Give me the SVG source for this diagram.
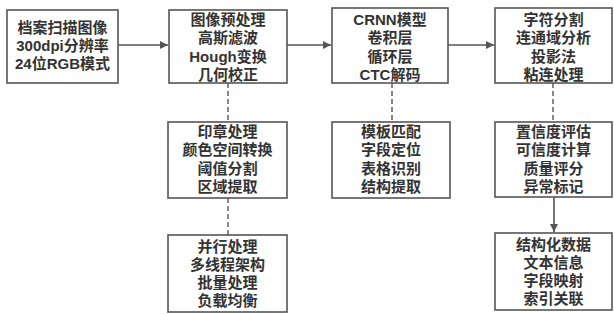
<svg xmlns="http://www.w3.org/2000/svg" width="615" height="314" viewBox="0 0 615 314">
<style>
.box{fill:#fff;stroke:#555;stroke-width:1.6}
.t{font-family:"Liberation Sans","Noto Sans CJK SC",sans-serif;font-size:15px;font-weight:bold;fill:#333;text-anchor:middle}
.c{stroke:#555;stroke-width:1.6;fill:none}
.d{stroke:#555;stroke-width:1.4;fill:none;stroke-dasharray:5,3}
</style>
<defs>
<marker id="ah" viewBox="0 0 10 10" refX="10" refY="5" markerWidth="8" markerHeight="8" markerUnits="userSpaceOnUse" orient="auto">
<path d="M0,0 L10,5 L0,10 z" fill="#555"/>
</marker>
</defs>
<rect width="615" height="314" fill="#fff"/>
<g id="connectors">
<line class="c" x1="118" y1="45" x2="168" y2="45" marker-end="url(#ah)"/>
<line class="c" x1="287" y1="45" x2="331" y2="45" marker-end="url(#ah)"/>
<line class="c" x1="448" y1="45" x2="494" y2="45" marker-end="url(#ah)"/>
<line class="d" x1="228" y1="83" x2="228" y2="122"/>
<line class="d" x1="228" y1="198" x2="228" y2="235"/>
<line class="d" x1="392" y1="83" x2="392" y2="122"/>
<line class="d" x1="553" y1="83" x2="553" y2="122"/>
<line class="c" x1="554" y1="197" x2="554" y2="232" marker-end="url(#ah)"/>
</g>
<g id="n1"><rect class="box" x="7" y="10" width="111" height="73"/>
<text class="t" y="33"><tspan x="62.5">档案扫描图像</tspan><tspan x="62.5" dy="18">300dpi分辨率</tspan><tspan x="62.5" dy="18">24位RGB模式</tspan></text></g>
<g id="n2"><rect class="box" x="169" y="10" width="118" height="73"/>
<text class="t" y="25"><tspan x="228">图像预处理</tspan><tspan x="228" dy="18.3">高斯滤波</tspan><tspan x="228" dy="18.3">Hough变换</tspan><tspan x="228" dy="18.3">几何校正</tspan></text></g>
<g id="n3"><rect class="box" x="332" y="8" width="116" height="75"/>
<text class="t" y="25"><tspan x="390">CRNN模型</tspan><tspan x="390" dy="18.3">卷积层</tspan><tspan x="390" dy="18.3">循环层</tspan><tspan x="390" dy="18.3">CTC解码</tspan></text></g>
<g id="n4"><rect class="box" x="495" y="8" width="117" height="75"/>
<text class="t" y="25"><tspan x="553.5">字符分割</tspan><tspan x="553.5" dy="18.3">连通域分析</tspan><tspan x="553.5" dy="18.3">投影法</tspan><tspan x="553.5" dy="18.3">粘连处理</tspan></text></g>
<g id="n5"><rect class="box" x="168" y="122" width="119" height="76"/>
<text class="t" y="137"><tspan x="227.5">印章处理</tspan><tspan x="227.5" dy="18.3">颜色空间转换</tspan><tspan x="227.5" dy="18.3">阈值分割</tspan><tspan x="227.5" dy="18.3">区域提取</tspan></text></g>
<g id="n6"><rect class="box" x="332" y="122" width="118" height="76"/>
<text class="t" y="137"><tspan x="391">模板匹配</tspan><tspan x="391" dy="18.3">字段定位</tspan><tspan x="391" dy="18.3">表格识别</tspan><tspan x="391" dy="18.3">结构提取</tspan></text></g>
<g id="n7"><rect class="box" x="495" y="122" width="117" height="75"/>
<text class="t" y="137"><tspan x="553.5">置信度评估</tspan><tspan x="553.5" dy="18.3">可信度计算</tspan><tspan x="553.5" dy="18.3">质量评分</tspan><tspan x="553.5" dy="18.3">异常标记</tspan></text></g>
<g id="n8"><rect class="box" x="168" y="235" width="119" height="77"/>
<text class="t" y="252"><tspan x="227.5">并行处理</tspan><tspan x="227.5" dy="18">多线程架构</tspan><tspan x="227.5" dy="18">批量处理</tspan><tspan x="227.5" dy="18">负载均衡</tspan></text></g>
<g id="n9"><rect class="box" x="495" y="233" width="117" height="77"/>
<text class="t" y="250"><tspan x="553.5">结构化数据</tspan><tspan x="553.5" dy="18">文本信息</tspan><tspan x="553.5" dy="18">字段映射</tspan><tspan x="553.5" dy="18">索引关联</tspan></text></g>
</svg>
